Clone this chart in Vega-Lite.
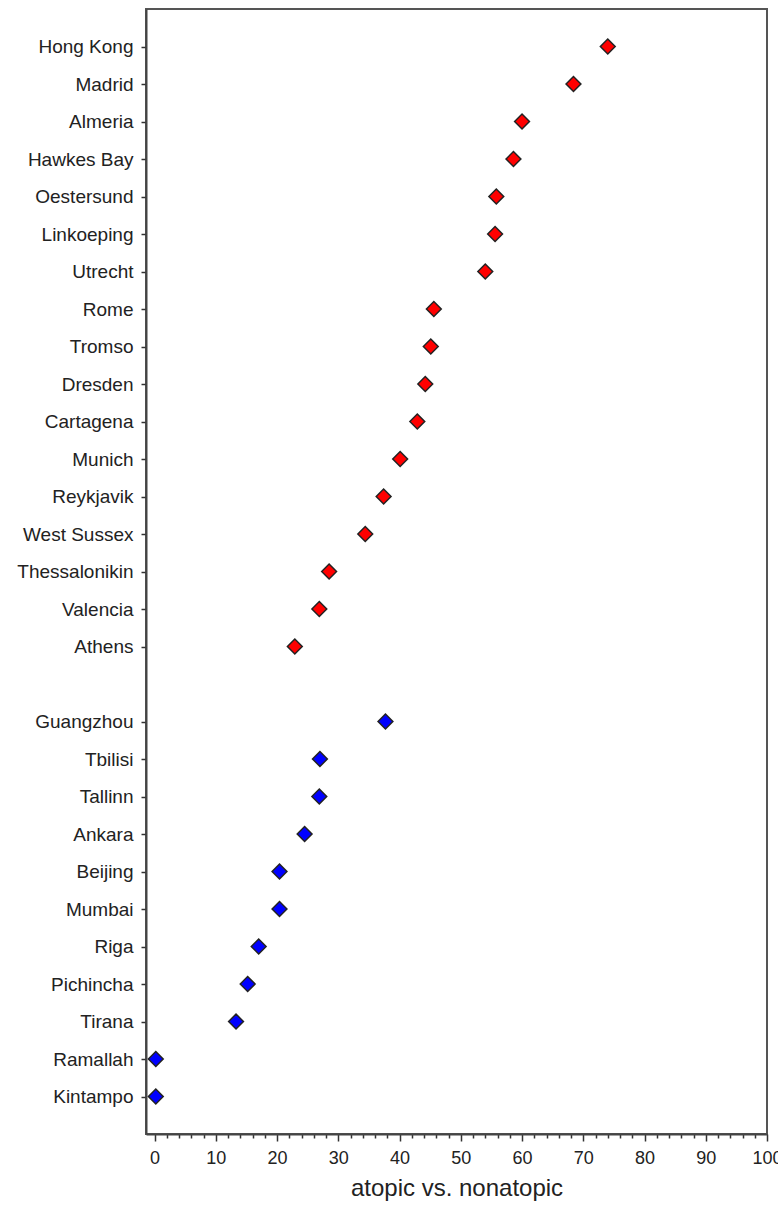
{
  "$schema": "https://vega.github.io/schema/vega-lite/v6.json",
  "autosize": "none",
  "width": 621,
  "height": 1125,
  "padding": {"left": 146, "top": 9, "right": 11, "bottom": 71},
  "background": "white",
  "config": {
    "font": "Liberation Sans",
    "view": {"stroke": "#555555", "strokeWidth": 2}
  },
  "data": {
    "values": [
      {"city": "Hong Kong", "value": 74.0, "group": "upper"},
      {"city": "Madrid", "value": 68.4, "group": "upper"},
      {"city": "Almeria", "value": 60.0, "group": "upper"},
      {"city": "Hawkes Bay", "value": 58.6, "group": "upper"},
      {"city": "Oestersund", "value": 55.8, "group": "upper"},
      {"city": "Linkoeping", "value": 55.6, "group": "upper"},
      {"city": "Utrecht", "value": 54.0, "group": "upper"},
      {"city": "Rome", "value": 45.6, "group": "upper"},
      {"city": "Tromso", "value": 45.1, "group": "upper"},
      {"city": "Dresden", "value": 44.2, "group": "upper"},
      {"city": "Cartagena", "value": 42.9, "group": "upper"},
      {"city": "Munich", "value": 40.1, "group": "upper"},
      {"city": "Reykjavik", "value": 37.4, "group": "upper"},
      {"city": "West Sussex", "value": 34.4, "group": "upper"},
      {"city": "Thessalonikin", "value": 28.5, "group": "upper"},
      {"city": "Valencia", "value": 26.9, "group": "upper"},
      {"city": "Athens", "value": 22.9, "group": "upper"},
      {"city": "Guangzhou", "value": 37.7, "group": "lower"},
      {"city": "Tbilisi", "value": 27.0, "group": "lower"},
      {"city": "Tallinn", "value": 26.9, "group": "lower"},
      {"city": "Ankara", "value": 24.5, "group": "lower"},
      {"city": "Beijing", "value": 20.4, "group": "lower"},
      {"city": "Mumbai", "value": 20.4, "group": "lower"},
      {"city": "Riga", "value": 17.0, "group": "lower"},
      {"city": "Pichincha", "value": 15.2, "group": "lower"},
      {"city": "Tirana", "value": 13.3, "group": "lower"},
      {"city": "Ramallah", "value": 0.2, "group": "lower"},
      {"city": "Kintampo", "value": 0.2, "group": "lower"}
    ]
  },
  "mark": {"type": "point", "shape": "diamond", "filled": true, "stroke": "#222222", "strokeWidth": 1.5, "size": 220, "opacity": 1},
  "encoding": {
    "x": {
      "field": "value",
      "type": "quantitative",
      "scale": {"domain": [-1.4, 100], "nice": false, "zero": false},
      "axis": {
        "title": "atopic vs. nonatopic",
        "values": [0,2,4,6,8,10,12,14,16,18,20,22,24,26,28,30,32,34,36,38,40,42,44,46,48,50,52,54,56,58,60,62,64,66,68,70,72,74,76,78,80,82,84,86,88,90,92,94,96,98,100],
        "labelExpr": "datum.value % 10 === 0 ? datum.label : ''",
        "tickSize": {"condition": {"test": "datum.value % 10 === 0", "value": 7}, "value": 4},
        "tickColor": "#333333",
        "tickWidth": 1.5,
        "domainColor": "#444444",
        "domainWidth": 2,
        "labelFontSize": 18,
        "labelColor": "#222222",
        "labelPadding": 8,
        "labelFlush": false,
        "labelOverlap": false,
        "titleFontSize": 24,
        "titleFontWeight": "normal",
        "titleColor": "#222222",
        "titlePadding": 9,
        "grid": false
      }
    },
    "y": {
      "field": "city",
      "type": "nominal",
      "scale": {
        "type": "point",
        "padding": 1,
        "round": false,
        "domain": ["Hong Kong", "Madrid", "Almeria", "Hawkes Bay", "Oestersund", "Linkoeping", "Utrecht", "Rome", "Tromso", "Dresden", "Cartagena", "Munich", "Reykjavik", "West Sussex", "Thessalonikin", "Valencia", "Athens", " ", "Guangzhou", "Tbilisi", "Tallinn", "Ankara", "Beijing", "Mumbai", "Riga", "Pichincha", "Tirana", "Ramallah", "Kintampo"]
      },
      "axis": {
        "title": null,
        "tickSize": 5,
        "tickColor": "#333333",
        "tickWidth": 1.5,
        "tickOpacity": {"condition": {"test": "datum.value === ' '", "value": 0}, "value": 1},
        "domainColor": "#444444",
        "domainWidth": 2,
        "labelFontSize": 19,
        "labelColor": "#222222",
        "labelPadding": 8,
        "labelOverlap": false,
        "grid": false
      }
    },
    "fill": {
      "field": "group",
      "type": "nominal",
      "scale": {"domain": ["upper", "lower"], "range": ["#ff0000", "#0000ff"]},
      "legend": null
    }
  }
}
